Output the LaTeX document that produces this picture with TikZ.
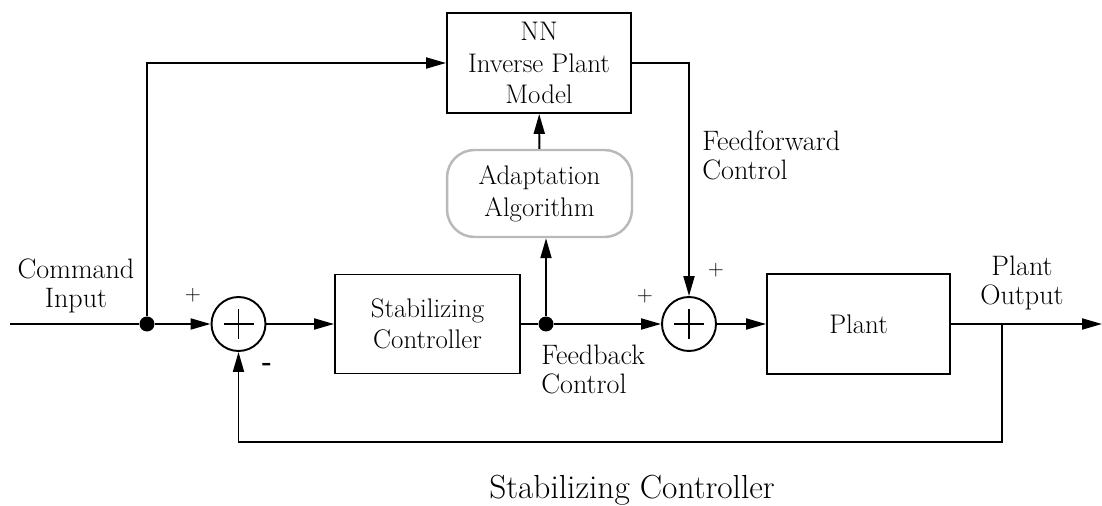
\documentclass[tikz,border=0pt]{standalone}
\usetikzlibrary{arrows.meta}

\tikzset{
  block/.style={draw, line width=1.1pt, align=center, inner sep=0pt,
    font=\fontsize{15.3}{18}\selectfont},
  adaptbox/.style={block, draw=gray!55, line width=1.4pt, rounded corners=0.55cm},
  sumnode/.style={draw, circle, line width=1.1pt, minimum size=1.08cm, inner sep=0pt,
    path picture={
      \draw[line width=0.8pt] ([xshift=-0.3cm]path picture bounding box.center)
        -- ([xshift=0.3cm]path picture bounding box.center);
      \draw[line width=0.8pt] ([yshift=-0.3cm]path picture bounding box.center)
        -- ([yshift=0.3cm]path picture bounding box.center);
    }},
  junc/.style={circle, fill, inner sep=0pt, minimum size=0.3cm},
  wire/.style={line width=1.1pt},
  sig/.style={wire, -{Triangle[length=0.4cm,width=0.22cm]}},
  lbl/.style={align=center, inner sep=0pt, font=\fontsize{16}{16.5}\selectfont},
  sgn/.style={inner sep=0pt, font=\fontsize{12}{12}\selectfont}
}

\begin{document}
\begin{tikzpicture}[x=0.02cm,y=-0.02cm]
\useasboundingbox (0,0) rectangle (1102,506);

% blocks
\node[block, minimum width=3.68cm, minimum height=2cm] (nn) at (539,63) {NN\\Inverse Plant\\Model};
\node[adaptbox, minimum width=3.7cm, minimum height=1.74cm] (adapt) at (539.5,193.5) {Adaptation\\Algorithm};
\node[block, minimum width=3.7cm, minimum height=1.98cm] (ctrl) at (427.5,324) {Stabilizing\\Controller};
\node[block, minimum width=3.66cm, minimum height=2cm] (plant) at (858.5,324) {Plant};

% summing points and branch points
\node[sumnode] (sum1) at (238.5,324) {};
\node[sumnode] (sum2) at (689,324) {};
\node[junc] (indot) at (147,324) {};
\node[junc] (fbdot) at (546,324) {};
\coordinate (in) at (10,324);
\coordinate (out) at (1102,324);
\coordinate (tap) at (1002,324);
\coordinate (bot) at (1002,442);

% signals
\draw[wire] (in) -- (indot);
\draw[sig] (indot) -- (sum1);
\draw[sig] (indot) |- (nn.west);
\draw[sig] (sum1) -- (ctrl);
\draw[wire] (ctrl) -- (fbdot);
\draw[sig] (fbdot) -- (fbdot |- adapt.south);
\draw[sig] (adapt) -- (nn);
\draw[sig] (fbdot) -- (sum2);
\draw[sig] (nn.east) -| (sum2.north);
\draw[sig] (sum2) -- (plant);
\draw[sig] (plant) -- (out);
\draw[sig] (tap) -- (bot) -| (sum1.south);

% labels
\node[lbl] (cmdlbl) at (76,286) {Command\\Input};
\node[sgn] (p1) at (193,295) {+};
\node[sgn, font=\fontsize{15}{15}\selectfont\bfseries] (m1) at (267,367) {-};
\node[sgn] (p2) at (645,296) {+};
\node[sgn] (p3) at (716,270) {+};
\node[lbl, anchor=north west, align=left] (fblbl) at (541,345) {Feedback\\Control};
\node[lbl, anchor=north west, align=left] (fflbl) at (702,130) {Feedforward\\Control};
\node[lbl] (outlbl) at (1022,283) {Plant\\Output};
\node[font=\fontsize{19}{22}\selectfont] (caption) at (632,490) {Stabilizing Controller};
\end{tikzpicture}
\end{document}
